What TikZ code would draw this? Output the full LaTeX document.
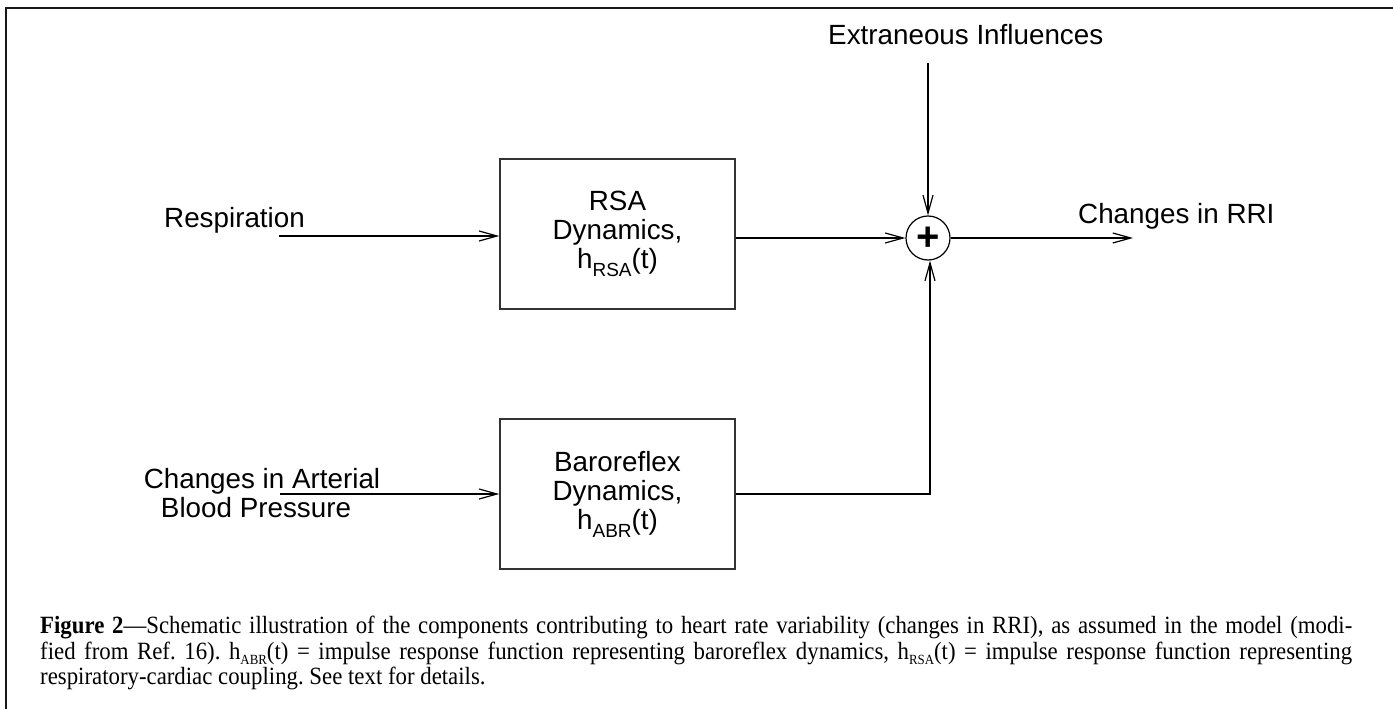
\documentclass[tikz,border=0pt]{standalone}
\usepackage{fontspec}
\setmainfont{Liberation Serif}
\newfontfamily\capfont{Liberation Serif}[FakeStretch=0.92]
\newfontfamily\arial{Liberation Sans}
\usetikzlibrary{arrows.meta}
\newcommand\capsub[1]{\raisebox{-0.5ex}{\fontsize{14}{14}\selectfont #1}}
\newcommand\dsub[1]{\raisebox{-8pt}{\fontsize{19}{19}\selectfont #1}}
\begin{document}
\begin{tikzpicture}[x=1pt,y=-1pt,
  lbl/.style={font=\arial\fontsize{27.8}{29.5}\selectfont, inner sep=0pt},
  blk/.style={draw=black!80, line width=1.4pt, minimum width=235pt, minimum height=150pt,
    inner sep=0pt, align=center, font=\arial\fontsize{27.8}{29}\selectfont},
  sig/.style={line width=1.2pt, -{Straight Barb[length=18pt,width=10pt,line width=1.2pt]}},
  junction/.style={circle, draw, line width=1.2pt, minimum size=44pt, inner sep=0pt},
  frameline/.style={line width=2.6pt, draw=black!90},
  captionbox/.style={anchor=north west, inner sep=0pt, text width=1312pt, align=justify,
    font=\capfont\fontsize{24.8}{25.9}\selectfont}
]
\useasboundingbox (0,0) rectangle (1393,709);
\draw[frameline] (6,709) -- (6,8) -- (1393,8);

% blocks
\node[blk] (rsa) at (617.5,234) {RSA\\Dynamics,\\h\dsub{RSA}(t)};
\node[blk] (abr) at (617.5,494) {Baroreflex\\Dynamics,\\h\dsub{ABR}(t)};
\node[junction] (sum) at (928,238) {};
\node[font=\arial\bfseries\fontsize{40}{40}\selectfont, inner sep=0pt] (plus) at (928,239) {+};

% labels
\node[lbl, anchor=base west] (resplbl) at (164,227) {Respiration};
\node[lbl, anchor=base] (abplbl1) at (262,488) {Changes in Arterial};
\node[lbl, anchor=base] (abplbl2) at (256,517) {Blood Pressure};
\node[lbl, anchor=base west] (extlbl) at (828,45) {Extraneous Influences};
\node[lbl, anchor=base west] (outlbl) at (1078,223) {Changes in RRI};

% connector ends
\coordinate (resp0) at (279,236);
\coordinate (abp0) at (280,494);
\coordinate (ext0) at (928,63);
\coordinate (bc) at (930,494);
\coordinate (out) at (1133,238);

% connectors
\draw[sig] (resp0) -- (rsa.west |- resp0);
\draw[sig] (abp0) -- (abr.west |- abp0);
\draw[sig] (rsa.east |- sum) -- (sum.west);
\draw[sig] (ext0) -- (sum.north);
\draw[sig] (abr.east) -- (bc) -- (bc |- sum.south);
\draw[sig] (sum.east) -- (out);

% caption
\node[captionbox] (caption) at (40,615.5) {\tolerance=10000\hyphenpenalty=10000\lefthyphenmin=64\frenchspacing
\textbf{Figure 2}—Schematic illustration of the components contributing to heart rate variability (changes in RRI), as assumed in the model (modi-\linebreak fied from Ref.~16). h\capsub{ABR}(t) = impulse response function representing baroreflex dynamics, h\capsub{RSA}(t) = impulse response function representing\linebreak respiratory-cardiac coupling. See text for details.};
\end{tikzpicture}
\end{document}
